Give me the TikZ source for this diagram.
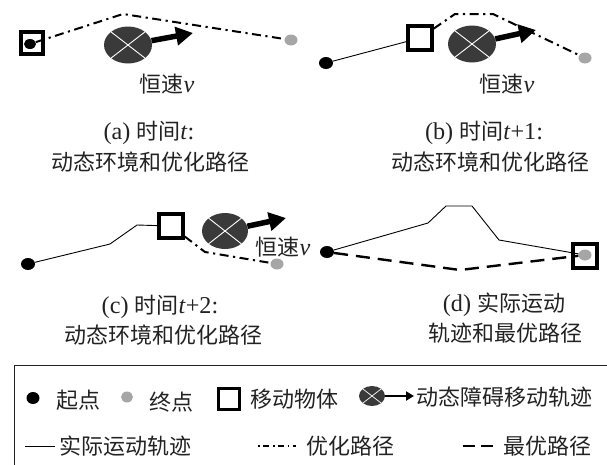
\documentclass[tikz,border=0pt]{standalone}
\usepackage{fontspec}
\setmainfont{Liberation Serif}[Scale=1.1]
\newfontfamily\cjk{Noto Sans CJK SC}
\usetikzlibrary{arrows.meta,shapes.geometric}
\definecolor{obsgray}{HTML}{3A3A3A}
\definecolor{endgray}{HTML}{A6A6A6}
\definecolor{txtgray}{HTML}{222222}
\newcommand{\zh}[1]{{\cjk #1}}
\begin{document}
\begin{tikzpicture}[x=1pt,y=-1pt,
  startdot/.style={ellipse, fill=black, minimum width=14pt, minimum height=12pt, inner sep=0pt},
  enddot/.style={ellipse, fill=endgray, minimum width=13pt, minimum height=11pt, inner sep=0pt},
  mover/.style={rectangle, draw=black, line width=3.4pt, fill=white, minimum size=22pt, inner sep=0pt},
  obst/.style={ellipse, fill=obsgray, minimum width=48pt, minimum height=37pt, inner sep=0pt},
  xline/.style={draw=white, line width=0.9pt},
  realpath/.style={line width=0.9pt},
  optpath/.style={line width=2pt, dash pattern=on 9pt off 4.5pt on 2.2pt off 4.5pt},
  bestpath/.style={line width=2.4pt, dash pattern=on 14pt off 8pt},
  obarrow/.style={line width=5.5pt, -{Triangle[length=17pt,width=18pt]}},
  lbl/.style={font=\fontsize{22}{26}\selectfont, text=txtgray, inner sep=0pt}
]
\useasboundingbox (0,0) rectangle (607,464);

% ---------- panel (a)
\node[mover] (ma) at (32,43) {};
\node[startdot, minimum width=12pt, minimum height=10pt] (sa) at (30,44) {};
\node[enddot] (ea) at (291,40) {};
\coordinate (pa1) at (123,14);
\draw[optpath] (sa) -- (pa1) -- (ea);
\node[obst] (oa) at (128,45) {};
\draw[xline] (oa.north east) -- (oa.south west) (oa.north west) -- (oa.south east);
\coordinate (ta) at (193,33);
\draw[obarrow] (oa) -- (ta);
\node[lbl] (va) at (167,84) {\zh{恒速}\textit{v}};
\node[lbl] (ca1) at (149,133) {(a) \zh{时间}\textit{t}:};
\node[lbl] (ca2) at (150,162) {\zh{动态环境和优化路径}};

% ---------- panel (b)
\node[startdot] (sb) at (326,63) {};
\node[mover, minimum size=24pt] (mb) at (420,38) {};
\node[enddot] (eb) at (585,58) {};
\draw[realpath] (sb) -- (mb);
\coordinate (pb1) at (455,14);
\coordinate (pb2) at (493,14);
\draw[optpath] (mb) -- (pb1) -- (pb2) -- (eb);
\node[obst] (ob) at (472,44) {};
\draw[xline] (ob.north east) -- (ob.south west) (ob.north west) -- (ob.south east);
\coordinate (tb) at (536,30);
\draw[obarrow] (ob) -- (tb);
\node[lbl] (vb) at (507,84) {\zh{恒速}\textit{v}};
\node[lbl] (cb1) at (484,133) {(b) \zh{时间}\textit{t}+1:};
\node[lbl] (cb2) at (490,162) {\zh{动态环境和优化路径}};

% ---------- panel (c)
\node[startdot] (sc) at (28,264) {};
\node[mover, minimum size=24pt] (mc) at (171,226) {};
\node[enddot] (ec) at (277,264) {};
\coordinate (pc1) at (110,244);
\coordinate (pc2) at (137,225);
\draw[realpath] (sc) -- (pc1) -- (pc2) -- (mc);
\coordinate (pc3) at (205,252);
\draw[optpath] (mc) -- (pc3) -- (ec);
\node[obst, minimum width=46pt, minimum height=36pt] (oc) at (225,231) {};
\draw[xline] (oc.north east) -- (oc.south west) (oc.north west) -- (oc.south east);
\coordinate (tc) at (286,218);
\draw[obarrow] (oc) -- (tc);
\node[lbl] (vc) at (283,247) {\zh{恒速}\textit{v}};
\node[lbl] (cc1) at (160,307) {(c) \zh{时间}\textit{t}+2:};
\node[lbl] (cc2) at (163,335) {\zh{动态环境和优化路径}};

% ---------- panel (d)
\node[startdot] (sd) at (327,252) {};
\node[mover, minimum size=24pt] (md) at (585,256) {};
\node[enddot] (ed) at (585,255) {};
\coordinate (pd1) at (428,223);
\coordinate (pd2) at (446,206);
\coordinate (pd3) at (472,206);
\coordinate (pd4) at (499,240);
\draw[realpath] (sd) -- (pd1) -- (pd2) -- (pd3) -- (pd4) -- (ed);
\coordinate (pd5) at (460,270);
\draw[bestpath] (sd) -- (pd5) -- (ed);
\node[lbl] (cd1) at (504,305) {(d) \zh{实际运动}};
\node[lbl] (cd2) at (505,333) {\zh{轨迹和最优路径}};

% ---------- legend
\draw[line width=0.9pt, draw=txtgray] (14,365) rectangle (640,500);
\node[startdot, minimum width=13pt, minimum height=12pt] (lsd) at (33,398) {};
\node[lbl] (lst) at (78,400) {\zh{起点}};
\node[enddot, minimum width=12pt, minimum height=11pt] (led) at (127,397) {};
\node[lbl] (let) at (171,402) {\zh{终点}};
\node[mover, minimum size=21pt, line width=3pt] (lmv) at (229,399) {};
\node[lbl] (lmt) at (294,399) {\zh{移动物体}};
\node[obst, minimum width=26pt, minimum height=20pt] (lob) at (372,396) {};
\draw[xline, line width=0.7pt] (lob.north east) -- (lob.south west) (lob.north west) -- (lob.south east);
\coordinate (ltip) at (414,396);
\draw[line width=2.6pt, -{Triangle[length=8pt,width=9pt]}] (lob) -- (ltip);
\node[lbl, anchor=west] (lot) at (416,397) {\zh{动态障碍移动轨迹}};

\coordinate (lr1) at (25,446);
\coordinate (lr2) at (55,446);
\draw[line width=0.9pt] (lr1) -- (lr2);
\node[lbl, anchor=west] (lrt) at (59,446) {\zh{实际运动轨迹}};
\coordinate (lo1) at (258,446);
\coordinate (lo2) at (296,446);
\draw[line width=1.2pt, dash pattern=on 1.8pt off 3.5pt on 6pt off 3.5pt] (lo1) -- (lo2);
\node[lbl, anchor=west] (lopt) at (306,446) {\zh{优化路径}};
\coordinate (lb1) at (463,446);
\coordinate (lb2) at (493,446);
\draw[line width=1.8pt, dash pattern=on 12pt off 6pt] (lb1) -- (lb2);
\node[lbl, anchor=west] (lbt) at (503,446) {\zh{最优路径}};
\end{tikzpicture}
\end{document}
